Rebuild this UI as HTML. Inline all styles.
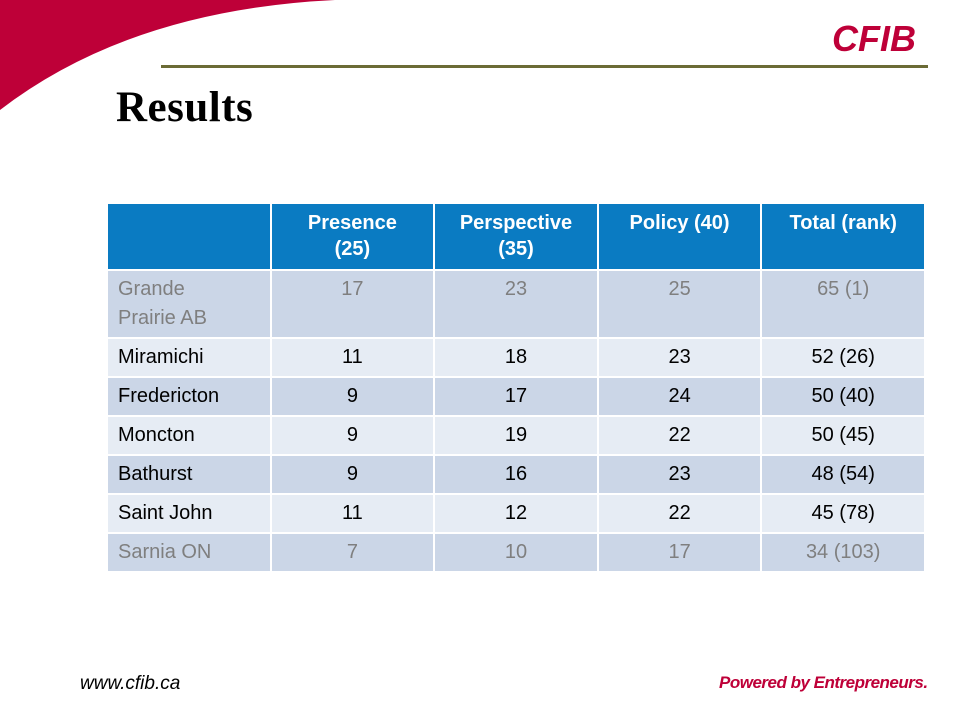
<!DOCTYPE html>
<html><head><meta charset="utf-8"><style>
body{margin:0;width:960px;height:720px;background:#fff;position:relative;overflow:hidden;font-family:"Liberation Sans",sans-serif}
table{position:absolute;left:106px;top:202px;border-collapse:collapse;width:820px;table-layout:fixed}
td,th{border:2px solid #fff;font-size:20px;padding:0 10px;vertical-align:top}
th{background:#0a7bc2;color:#fff;font-weight:bold;height:59px;padding-top:6px;padding-bottom:0;line-height:26px}
td{height:34px;line-height:37px;text-align:center;color:#000}
td:first-child{text-align:left}
tr.d td{background:#cbd6e7}
tr.l td{background:#e6ecf4}
tr.g td{color:#7f7f7f}
</style></head><body>
<svg style="position:absolute;left:0;top:0" width="340" height="120"><path d="M0 0 L335 0 Q130 10 0 110 Z" fill="#be0038"/></svg>
<div style="position:absolute;left:161px;top:65px;width:767px;height:3px;background:#6b6b35"></div>
<div style="position:absolute;left:832px;top:18px;font:italic bold 36px 'Liberation Sans',sans-serif;color:#be0038;letter-spacing:0px">CFIB</div>
<div style="position:absolute;left:116px;top:83px;font:bold 43px 'Liberation Serif',serif;color:#000;letter-spacing:0.5px">Results</div>
<table>
<tr><th></th><th>Presence<br>(25)</th><th>Perspective<br>(35)</th><th>Policy (40)</th><th>Total (rank)</th></tr>
<tr class="d g"><td style="height:62px;line-height:29px;padding-top:4px">Grande<br>Prairie AB</td><td style="line-height:29px;padding-top:4px">17</td><td style="line-height:29px;padding-top:4px">23</td><td style="line-height:29px;padding-top:4px">25</td><td style="line-height:29px;padding-top:4px">65 (1)</td></tr>
<tr class="l"><td>Miramichi</td><td>11</td><td>18</td><td>23</td><td>52 (26)</td></tr>
<tr class="d"><td>Fredericton</td><td>9</td><td>17</td><td>24</td><td>50 (40)</td></tr>
<tr class="l"><td>Moncton</td><td>9</td><td>19</td><td>22</td><td>50 (45)</td></tr>
<tr class="d"><td>Bathurst</td><td>9</td><td>16</td><td>23</td><td>48 (54)</td></tr>
<tr class="l"><td>Saint John</td><td>11</td><td>12</td><td>22</td><td>45 (78)</td></tr>
<tr class="d g"><td>Sarnia ON</td><td>7</td><td>10</td><td>17</td><td>34 (103)</td></tr>
</table>
<div style="position:absolute;left:80px;top:673px;font:italic 19px 'Liberation Sans',sans-serif;color:#000">www.cfib.ca</div>
<div style="position:absolute;left:719px;top:673px;font:italic bold 17px 'Liberation Sans',sans-serif;color:#be0038;letter-spacing:-0.5px">Powered by Entrepreneurs.</div>
</body></html>
